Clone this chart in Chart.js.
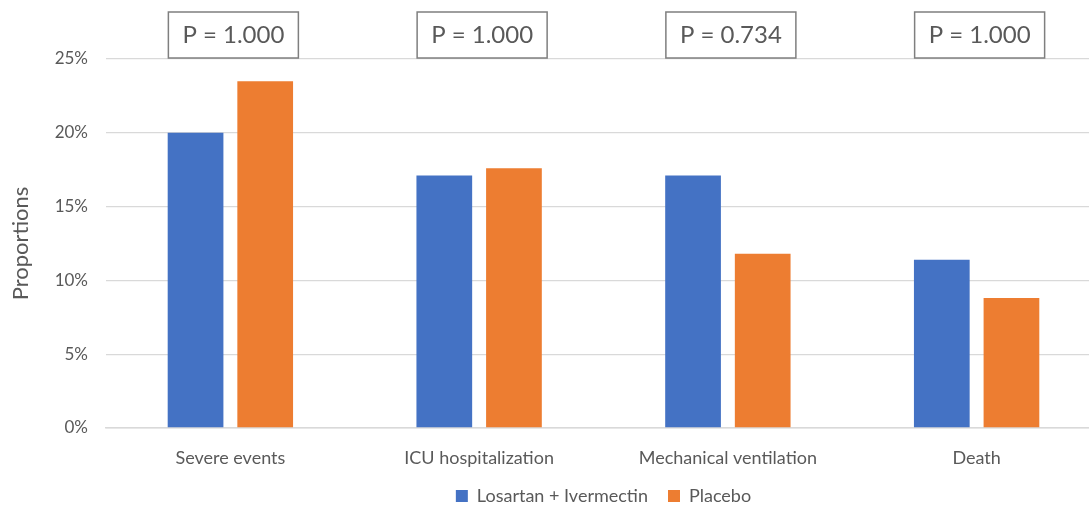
<!DOCTYPE html>
<html>
<head>
<meta charset="utf-8">
<script src="https://cdn.jsdelivr.net/npm/chart.js@4"></script>
<style>
  html, body { margin: 0; padding: 0; background: #fff; overflow: hidden; }
  #wrap { width: 1101px; height: 508px; }
</style>
</head>
<body>
<div id="wrap"><canvas id="outcomeChart"></canvas></div>
<script>
const categories = ["Severe events", "ICU hospitalization", "Mechanical ventilation", "Death"];
const losartanIvermectin = [20.0, 17.1, 17.1, 11.4];
const placebo = [23.5, 17.6, 11.8, 8.8];
const pValues = ["P = 1.000", "P = 1.000", "P = 0.734", "P = 1.000"];
const yTicks = [0, 5, 10, 15, 20, 25];

const textGray = "#595959";
const fontFamily = "Lato, 'Open Sans', sans-serif";

// boxes with the p-values, sitting on top of the plot area
const pBoxes = {
  id: "pBoxes",
  afterDraw(chart) {
    const ctx = chart.ctx;
    const xs = chart.scales.x;
    const top = chart.chartArea.top;
    ctx.save();
    ctx.font = "24px " + fontFamily;
    ctx.textAlign = "center";
    ctx.textBaseline = "middle";
    pValues.forEach((p, i) => {
      const cx = xs.getPixelForValue(i) + 3;
      const w = 130, h = 46;
      ctx.fillStyle = "#fff";
      ctx.fillRect(cx - w / 2, top - h - 1, w, h);
      ctx.strokeStyle = "#7f7f7f";
      ctx.lineWidth = 1.5;
      ctx.strokeRect(cx - w / 2, top - h - 1, w, h);
      ctx.fillStyle = textGray;
      ctx.fillText(p, cx, top - h / 2 - 1);
    });
    ctx.restore();
  }
};

new Chart(document.getElementById("outcomeChart"), {
  type: "bar",
  data: {
    labels: categories,
    datasets: [
      {
        label: "Losartan + Ivermectin",
        data: losartanIvermectin,
        backgroundColor: "#4472c4",
        categoryPercentage: 0.56,
        barPercentage: 0.8
      },
      {
        label: "Placebo",
        data: placebo,
        backgroundColor: "#ed7d31",
        categoryPercentage: 0.56,
        barPercentage: 0.8
      }
    ]
  },
  options: {
    responsive: true,
    maintainAspectRatio: false,
    animation: false,
    layout: { padding: { top: 59, right: 0, left: 4, bottom: 0 } },
    plugins: {
      legend: {
        position: "bottom",
        fullSize: false,
        maxHeight: 41,
        labels: {
          boxWidth: 12,
          boxHeight: 12,
          padding: 20,
          color: textGray,
          font: { family: fontFamily, size: 18 }
        }
      },
      tooltip: { enabled: false }
    },
    scales: {
      x: {
        grid: { display: false, drawTicks: false },
        border: { color: "#d9d9d9", width: 1.5 },
        ticks: {
          color: textGray,
          padding: 19,
          font: { family: fontFamily, size: 18 }
        },
        afterFit(scale) { scale.height = 39; }
      },
      y: {
        min: 0,
        max: 25,
        afterBuildTicks(scale) {
          scale.ticks = yTicks.map(v => ({ value: v }));
        },
        grid: { color: "#d9d9d9", lineWidth: 1.3, drawTicks: false },
        border: { display: false },
        ticks: {
          color: textGray,
          padding: 18,
          font: { family: fontFamily, size: 17 },
          callback: v => v + "%"
        },
        title: {
          display: true,
          text: "Proportions",
          color: textGray,
          padding: { bottom: 4 },
          font: { family: fontFamily, size: 22 }
        },
        afterFit(scale) { scale.width = 102; }
      }
    }
  },
  plugins: [pBoxes]
});
</script>
</body>
</html>
